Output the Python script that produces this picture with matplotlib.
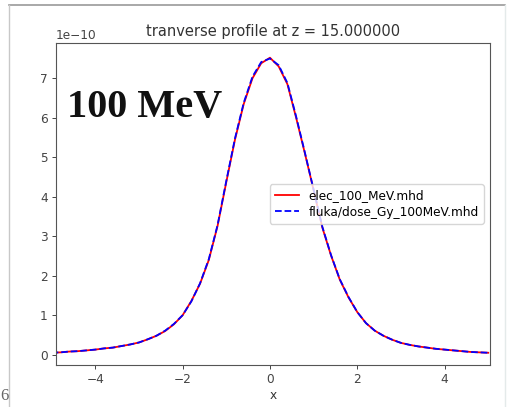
import numpy as np
import matplotlib.pyplot as plt
from matplotlib.lines import Line2D

# transverse dose profile, sampled every 0.2 along x (values in units of 1e-10)
x = np.round(np.arange(-5.0, 5.01, 0.2), 2)
elec = [0.05, 0.06, 0.08, 0.09, 0.11, 0.13, 0.16, 0.18, 0.22, 0.26, 0.31,
        0.39, 0.48, 0.60, 0.77, 1.00, 1.36, 1.80, 2.40, 3.26, 4.37, 5.45,
        6.35, 7.00, 7.38, 7.52, 7.30, 6.85, 6.00, 5.10, 4.17, 3.22, 2.51,
        1.90, 1.45, 1.08, 0.80, 0.61, 0.48, 0.38, 0.30, 0.25, 0.21, 0.18,
        0.15, 0.13, 0.11, 0.09, 0.07, 0.06, 0.05]
fluka = [0.05, 0.06, 0.08, 0.09, 0.11, 0.13, 0.16, 0.18, 0.22, 0.26, 0.31,
         0.39, 0.48, 0.61, 0.78, 1.00, 1.35, 1.81, 2.42, 3.28, 4.40, 5.48,
         6.38, 7.04, 7.41, 7.50, 7.33, 6.88, 6.03, 5.12, 4.18, 3.24, 2.52,
         1.91, 1.46, 1.08, 0.80, 0.61, 0.48, 0.38, 0.30, 0.25, 0.21, 0.18,
         0.15, 0.13, 0.11, 0.09, 0.07, 0.06, 0.05]
labels = ['elec_100_MeV.mhd', 'fluka/dose_Gy_100MeV.mhd']
z_pos = 15.0

W, H = 507, 407
fig = plt.figure(figsize=(W / 100, H / 100), dpi=100)
ax = fig.add_axes([56 / W, 1 - 365 / H, (490 - 56) / W, (365 - 42.7) / H])

ax.plot(x, np.array(elec) * 1e-10, 'r-', lw=1.3, label=labels[0])
ax.plot(x, np.array(fluka) * 1e-10, 'b--', lw=1.3, label=labels[1])
ax.set_xlim(-4.9, 5.04)
ax.set_ylim(-0.26e-10, 7.9e-10)
ax.set_title('tranverse profile at z = %f' % z_pos, fontsize=10.5, color='#333333', pad=5)
ax.set_xlabel('x', fontsize=8.75, color='#333333', labelpad=2)
ax.tick_params(labelsize=8.75, colors='#444444', length=3, width=0.7, pad=3)
ax.yaxis.get_offset_text().set_fontsize(8.75)
ax.yaxis.get_offset_text().set_color('#444444')
for s in ax.spines.values():
    s.set_color('#555555')
    s.set_linewidth(0.8)

ax.legend(loc='center right', fontsize=8.75, handlelength=2.0,
          borderpad=0.4, labelspacing=0.3, framealpha=0.8)

ax.text(0.025, 0.77, '100 MeV', transform=ax.transAxes, fontsize=29,
        fontweight='bold', family='Liberation Serif', color='#111111',
        va='baseline')

# page frame around the figure
def frame_line(x0, y0, x1, y1, c, lw=1.0):
    fig.add_artist(Line2D([x0 / W, x1 / W], [1 - y0 / H, 1 - y1 / H],
                          color=c, lw=lw, transform=fig.transFigure))

frame_line(8.5, 4.5, 505, 4.5, '#9a9a9a', 1.2)
frame_line(8.5, 4.5, 8.5, 407, '#c8c8c8', 1.0)
frame_line(505, 4.5, 505, 407, '#e4eaea', 1.0)
fig.text(0.5 / W, 1 - 400 / H, '6', fontsize=12, family='Liberation Serif', color='#666666')

fig.savefig('out.png', dpi=100)
